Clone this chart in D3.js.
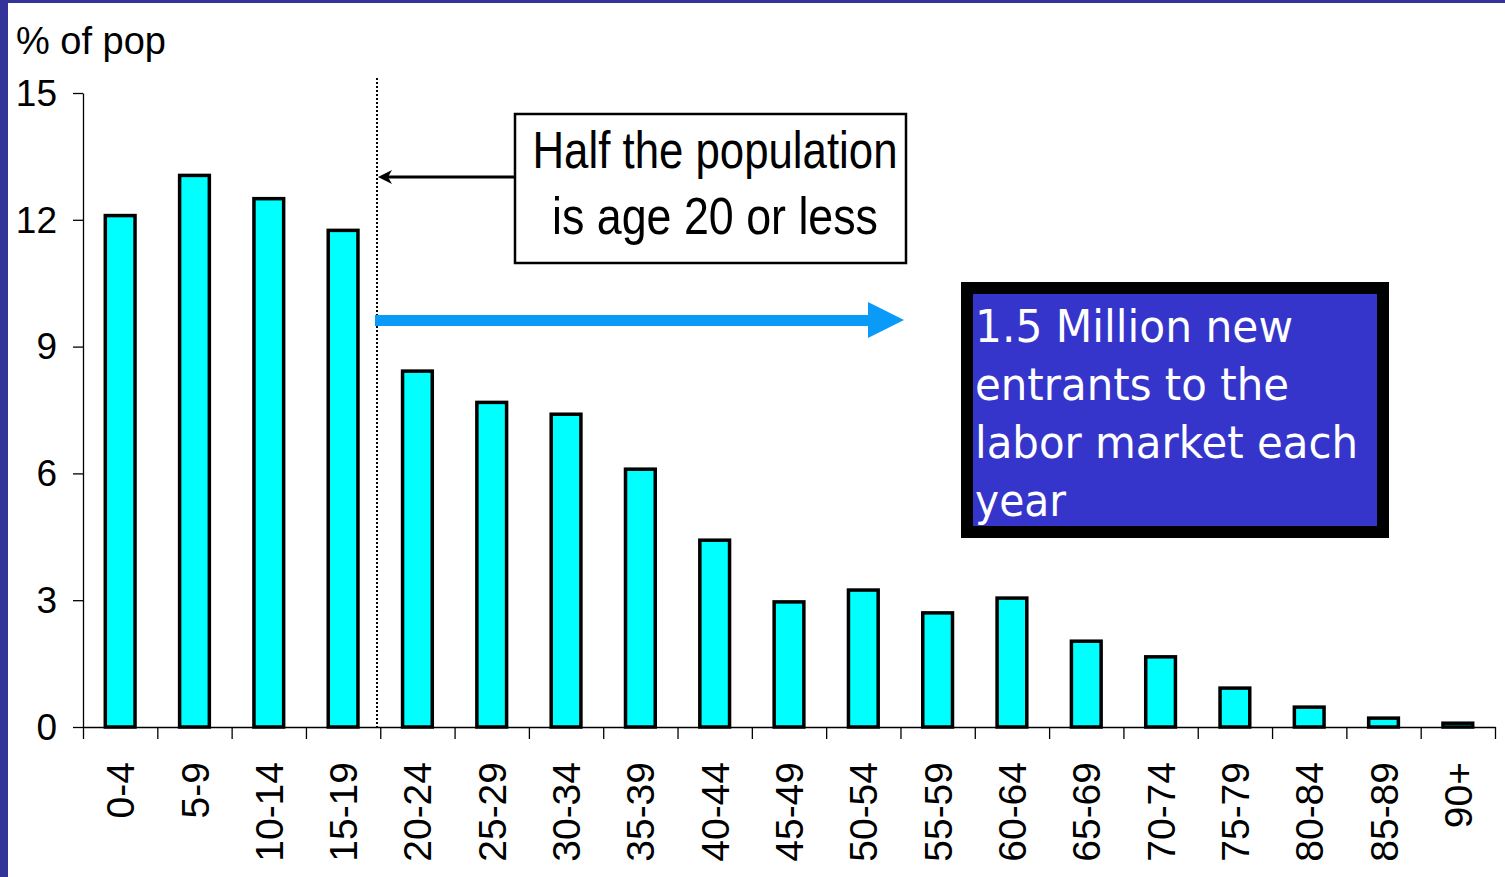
<!DOCTYPE html>
<html><head><meta charset="utf-8">
<script src="https://cdn.jsdelivr.net/npm/d3@7"></script>
<style>
html,body{margin:0;padding:0;background:#fff;}
svg{display:block;}
</style></head>
<body>
<svg id="chart" width="1505" height="877"></svg>
<script>
const categories = ["0-4","5-9","10-14","15-19","20-24","25-29","30-34","35-39","40-44","45-49","50-54","55-59","60-64","65-69","70-74","75-79","80-84","85-89","90+"];
const values = [12.1,13.05,12.5,11.75,8.42,7.68,7.4,6.1,4.42,2.96,3.24,2.7,3.05,2.03,1.66,0.92,0.47,0.21,0.09];
const yTicks = [0,3,6,9,12,15];
const yTitle = "% of pop";
const noteLines = ["Half the population","is age 20 or less"];
const boxLines = ["1.5 Million new","entrants to the","labor market each","year"];

const svg = d3.select("#chart");
const W = 1505, H = 877;
const plot = {left:83, right:1495, top:93, bottom:727};

// slide background border
svg.append("rect").attr("x",0).attr("y",0).attr("width",W).attr("height",H).attr("fill","#333399");
svg.append("rect").attr("x",8).attr("y",3).attr("width",W-8).attr("height",H-3).attr("fill","#ffffff");

const x = d3.scaleBand().domain(categories).range([plot.left, plot.right]).paddingInner(0.6).paddingOuter(0.3);
const y = d3.scaleLinear().domain([0,15]).range([plot.bottom, plot.top]);
const xb = d3.scaleLinear().domain([0,categories.length]).range([plot.left, plot.right]);

const font = "'Liberation Sans', Arial, sans-serif";

// y axis
const yAxis = svg.append("g").attr("transform",`translate(${plot.left},0)`)
  .call(d3.axisLeft(y).tickValues(yTicks).tickSize(10).tickSizeOuter(0).tickPadding(16));
yAxis.selectAll("path,line").attr("stroke","#000").attr("stroke-width",1.3);
yAxis.selectAll("text").attr("font-family",font).attr("font-size",37).attr("fill","#000").attr("dy","0.33em");

// x boundary ticks
const xTickAxis = svg.append("g").attr("transform",`translate(0,${plot.bottom})`)
  .call(d3.axisBottom(xb).tickValues(d3.range(categories.length+1)).tickFormat("").tickSize(12).tickSizeOuter(0));
xTickAxis.selectAll("path,line").attr("stroke","#000").attr("stroke-width",1.3);

// x labels
const xAxis = svg.append("g").attr("transform",`translate(0,${plot.bottom})`)
  .call(d3.axisBottom(x).tickSize(0));
xAxis.select(".domain").remove();
xAxis.selectAll("text")
  .attr("font-family",font).attr("font-size",39).attr("fill","#000")
  .attr("transform","rotate(-90)").attr("x",-35).attr("y",0).attr("dy","0.36em")
  .style("text-anchor","end");

// bars
svg.append("g").selectAll("rect").data(values).join("rect")
  .attr("x",(d,i)=>x(categories[i]))
  .attr("y",d=>y(d))
  .attr("width",x.bandwidth())
  .attr("height",d=>y(0)-y(d))
  .attr("fill","#00FFFF").attr("stroke","#000").attr("stroke-width",3.5);

// y title
svg.append("text").attr("x",16).attr("y",54).text(yTitle)
  .attr("font-family",font).attr("font-size",38).attr("fill","#000");

// dotted divider between 15-19 and 20-24
const divX = Math.round(xb(4) - 3);
svg.append("line").attr("x1",divX).attr("x2",divX).attr("y1",78).attr("y2",plot.bottom)
  .attr("stroke","#000").attr("stroke-width",2).attr("stroke-dasharray","2,2");

// note box
svg.append("rect").attr("x",515).attr("y",114).attr("width",391).attr("height",149)
  .attr("fill","#fff").attr("stroke","#000").attr("stroke-width",2.5);
svg.append("g").selectAll("text").data(noteLines).join("text")
  .attr("x",715).attr("y",(d,i)=>168+i*66)
  .attr("text-anchor","middle")
  .attr("font-family","'Liberation Sans Narrow', 'Liberation Sans', Arial, sans-serif")
  .attr("font-size",52).attr("fill","#000")
  .attr("textLength",(d,i)=>i===0?365:326).attr("lengthAdjust","spacingAndGlyphs")
  .text(d=>d);

// black arrow
svg.append("line").attr("x1",515).attr("x2",388).attr("y1",177).attr("y2",177)
  .attr("stroke","#000").attr("stroke-width",2.8);
svg.append("path").attr("d",`M${divX+1},177 L${divX+15},170 L${divX+11},177 L${divX+15},184 Z`).attr("fill","#000");

// blue arrow
svg.append("rect").attr("x",375).attr("y",315).attr("width",495).attr("height",11).attr("fill","#0A9AF7");
svg.append("path").attr("d","M868,302 L904,320 L868,338 Z").attr("fill","#0A9AF7");

// blue callout box
svg.append("rect").attr("x",961).attr("y",282).attr("width",428).attr("height",256).attr("fill","#000");
svg.append("rect").attr("x",973).attr("y",294).attr("width",404).attr("height",232).attr("fill","#3535CC");
const boxW = [318, 314, 383, 91];
svg.append("g").selectAll("text").data(boxLines).join("text")
  .attr("x",975).attr("y",(d,i)=>342+i*58)
  .attr("font-family","'DejaVu Sans', Verdana, sans-serif")
  .attr("font-size",44).attr("fill","#fff")
  .attr("textLength",(d,i)=>boxW[i]).attr("lengthAdjust","spacingAndGlyphs")
  .text(d=>d);
</script>
</body></html>
